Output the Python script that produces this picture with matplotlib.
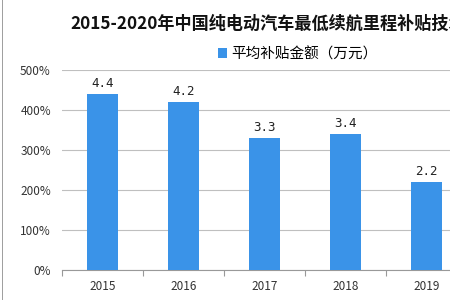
import matplotlib.pyplot as plt
from matplotlib.ticker import FuncFormatter, FixedLocator
from matplotlib.patches import Rectangle

plt.rcParams['font.family'] = ['Noto Sans CJK SC', 'DejaVu Sans']

# data (the 2020 bar is cut off on the right)
years = ['2015', '2016', '2017', '2018', '2019']
subsidy = [4.4, 4.2, 3.3, 3.4, 2.2]
title = '2015-2020年中国纯电动汽车最低续航里程补贴技术标准'
legend_label = '平均补贴金额（万元）'

bar_color = '#3a93e8'
grid_color = '#bfbfbf'

fig = plt.figure(figsize=(4.5, 3), dpi=100)
fig.patch.set_facecolor('white')

# the plot area runs past the right edge, like the cropped original
ax = fig.add_axes([62 / 450, 0.1, 486 / 450, 0.6667])
x = list(range(len(subsidy)))
bars = ax.bar(x, subsidy, width=0.38, color=bar_color, zorder=3, label=legend_label)

for xi, v in zip(x, subsidy):
    ax.text(xi, v + 0.1, '%.1f' % v, ha='center', va='bottom', fontsize=9,
            family=['DejaVu Sans Mono'], color='#222222')

ax.set_ylim(0, 5)
ax.set_xlim(-0.5, 5.5)
ax.set_yticks([0, 1, 2, 3, 4, 5])
ax.yaxis.set_major_formatter(FuncFormatter(lambda v, p: '%d%%' % round(v * 100)))
ax.yaxis.grid(True, color=grid_color, linewidth=0.8, zorder=0)
ax.tick_params(axis='y', length=0, labelsize=8.5, labelcolor='#333333', pad=8)

ax.set_xticks(x)
ax.set_xticklabels(years)
ax.tick_params(axis='x', length=0, labelsize=8.5, labelcolor='#333333', pad=7)
ax.xaxis.set_minor_locator(FixedLocator([i - 0.5 for i in range(7)]))
ax.tick_params(axis='x', which='minor', length=4, color='#999999', width=0.8)

for side in ['top', 'right', 'left']:
    ax.spines[side].set_visible(False)
ax.spines['bottom'].set_color('#999999')
ax.spines['bottom'].set_linewidth(0.8)

fig.text(70 / 450, 1 - 24 / 300, title, fontsize=12.3, fontweight='bold',
         ha='left', va='center', color='#111111')

fig.legend(handles=[bars], labels=[legend_label], loc='center left',
           bbox_to_anchor=(205 / 450, 1 - 54 / 300), frameon=False, fontsize=10.5,
           handlelength=0.6, handleheight=0.6, handletextpad=0.3)

# thin gray frame on the left edge
fig.add_artist(Rectangle((0.004, 0), 0.003, 1, transform=fig.transFigure,
                         color='#a0a0a0', linewidth=0))

fig.savefig('out.png', dpi=100)
